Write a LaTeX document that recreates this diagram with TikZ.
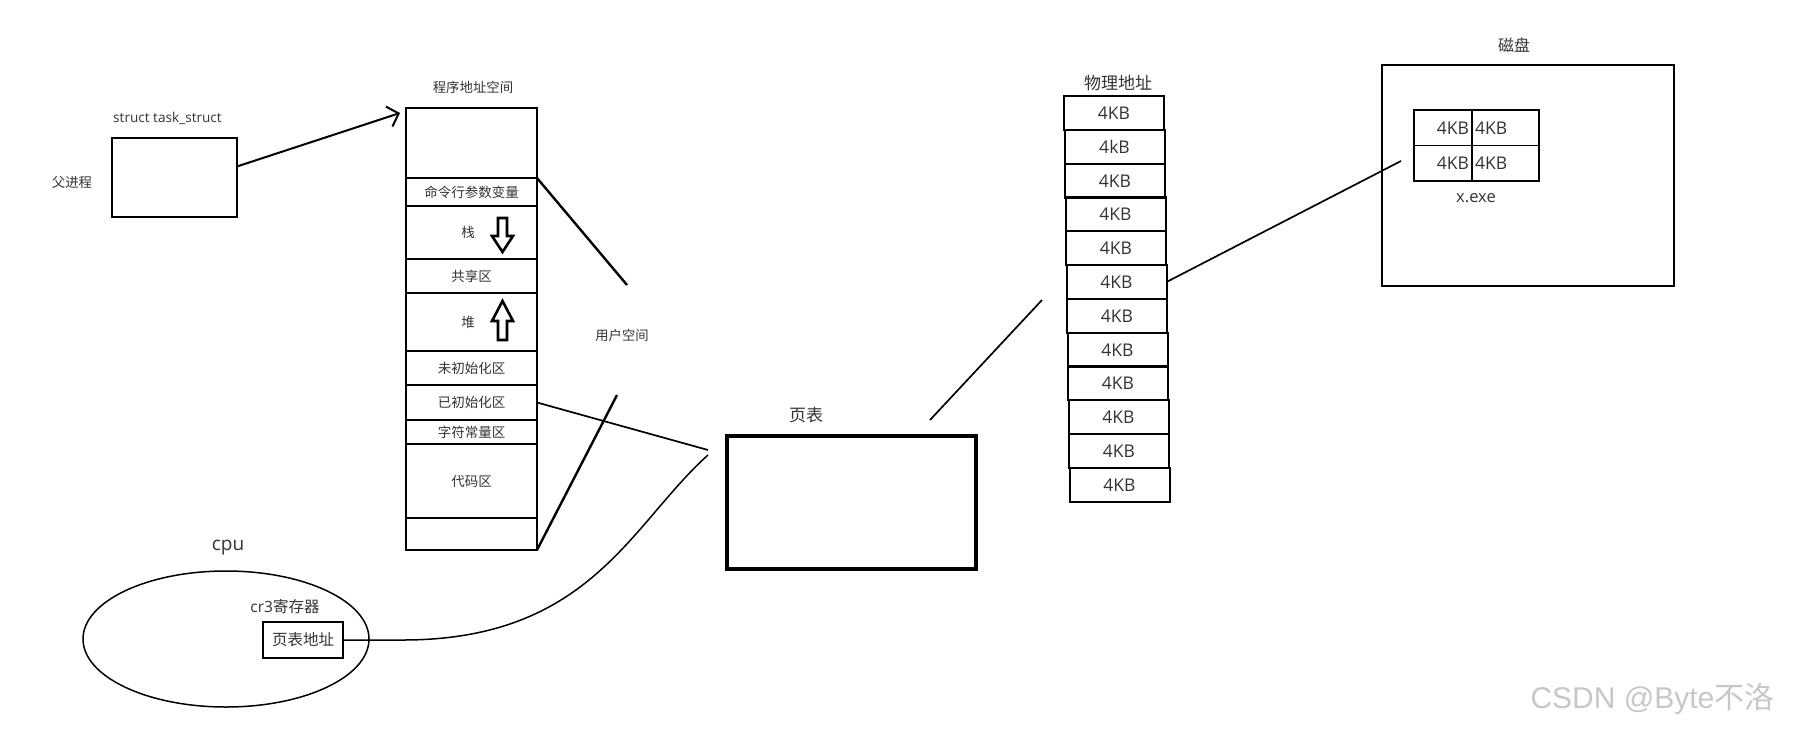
\documentclass[tikz,border=0pt]{standalone}
\usepackage{fontspec}
\setmainfont{Open Sans}
\newfontfamily\cjk{Noto Sans CJK SC}
\newfontfamily\wmfont{Liberation Sans}
\usepackage{tikz}
\usetikzlibrary{
  arrows.meta,
  positioning,
  shapes.geometric
}
\newcommand\fsz[1]{\fontsize{#1}{#1}\selectfont}

\begin{document}
\begin{tikzpicture}[x=1pt,y=-1pt,>={Straight Barb[length=10pt,width=21pt]},
  every node/.style={text=black!80},
  seg/.style={draw,line width=2.8pt,minimum width=131pt,inner sep=0pt,outer sep=0pt,font=\cjk\fsz{13.5}},
  cell/.style={draw,line width=2pt,minimum width=100pt,minimum height=34pt,inner sep=0pt,outer sep=0pt,font=\fsz{17.5}},
  dcell/.style={draw,line width=1.5pt,minimum height=35.5pt,inner xsep=3pt,inner ysep=0pt,outer sep=0pt,font=\fsz{17.5}},
  blk/.style={draw,line width=2.6pt,line join=miter}]
  \useasboundingbox (0,0) rectangle (1794,734);

  \node[draw,line width=2pt,minimum width=125pt,minimum height=79pt,inner sep=0pt,outer sep=0pt] (task) at (174.5,177.5) {};
  \node[font=\fsz{13.6}] (tasklbl) at (167.5,118) {struct task\_struct};
  \node[font=\cjk\fsz{13.4}] (parent) at (72,182) {父进程};

  \node[seg,anchor=north west,minimum height=70pt] (top) at (406,108) {};
  \node[seg,below=0pt of top,minimum height=28pt] (argv) {命令行参数变量};
  \node[seg,below=0pt of argv,minimum height=53pt] (stack) {\hspace*{-7pt}栈};
  \node[seg,below=0pt of stack,minimum height=34pt] (shm) {共享区};
  \node[seg,below=0pt of shm,minimum height=58pt] (heap) {\hspace*{-7pt}堆};
  \node[seg,below=0pt of heap,minimum height=34pt] (bss) {未初始化区};
  \node[seg,below=0pt of bss,minimum height=35pt] (data) {已初始化区};
  \node[seg,below=0pt of data,minimum height=24pt] (rodata) {字符常量区};
  \node[seg,below=0pt of rodata,minimum height=74pt] (text) {代码区};
  \node[seg,below=0pt of text,minimum height=32pt] (tail) {};
  \node[font=\cjk\fsz{13.4}] (vaslbl) at (473,87) {程序地址空间};
  \node[font=\cjk\fsz{13.3}] (user) at (622,335) {用户空间};

  \draw[blk] (498,218) -- (507,218) -- (507,236) -- (513,236) -- (502.5,252) -- (492,236) -- (498,236) -- cycle;
  \draw[blk] (502.5,301) -- (513,321) -- (507,321) -- (507,340) -- (498,340) -- (498,321) -- (492,321) -- cycle;

  \node[draw,line width=3.5pt,minimum width=249pt,minimum height=133pt,inner sep=0pt,outer sep=0pt] (pt) at (851.5,502.5) {};
  \node[font=\cjk\fsz{17}] (ptlbl) at (806,415) {页表};

  \node[ellipse,draw,line width=1.5pt,minimum width=286pt,minimum height=136pt,inner sep=0pt] (cpu) at (226,639) {};
  \node[font=\fsz{19}] (cpulbl) at (228,548) {cpu};
  \node[font=\fsz{15.5}] (cr3) at (285,607) {cr3{\cjk 寄存器}};
  \node[draw,line width=1.8pt,minimum width=80pt,minimum height=36pt,inner sep=0pt,outer sep=0pt,font=\cjk\fsz{15.5}] (addr) at (303,640) {页表地址};

  \node[font=\cjk\fsz{17}] (physlbl) at (1118,83) {物理地址};
  \foreach \i/\t [evaluate=\i as \y using {int(96+33.8*(\i-1)+0.5)}] in {1/4KB,2/4kB,3/4KB,4/4KB,5/4KB,6/4KB,7/4KB,8/4KB,9/4KB,10/4KB,11/4KB,12/4KB}{
    \node[cell,anchor=north west] (c\i) at ({1063.5+0.5*\i},\y) {\t};
  }

  \node[draw,line width=2pt,minimum width=292pt,minimum height=221pt,inner sep=0pt,outer sep=0pt] (disk) at (1528,175.5) {};
  \node[font=\cjk\fsz{16}] (disklbl) at (1514,45) {磁盘};
  \node[dcell,anchor=north west,text width=52pt,align=right] (d1) at (1414,110) {4KB};
  \node[dcell,anchor=north west,text width=61pt,align=left] (d2) at (d1.north east) {4KB};
  \node[dcell,anchor=north west,text width=52pt,align=right] (d3) at (d1.south west) {4KB};
  \node[dcell,anchor=north west,text width=61pt,align=left] (d4) at (d3.north east) {4KB};
  \node[font=\fsz{16.5}] (exe) at (1476,198) {x.exe};

  \coordinate (ptr) at (400,113);
  \coordinate (us1) at (627,285);
  \coordinate (us2) at (617,395);
  \coordinate (pt1) at (708,450);
  \coordinate (pt2) at (708,455);
  \coordinate (pt3) at (930,420);
  \coordinate (pt4) at (1042,300);
  \coordinate (dk) at (1401,161);

  \draw[->,line width=2pt] (task.10) -- (ptr);
  \draw[line width=2.4pt] (argv.north east) -- (us1);
  \draw[line width=2.4pt] (tail.south east) -- (us2);
  \draw[line width=1.7pt] (data.east) -- (pt1);
  \draw[line width=1.5pt] (addr.east) -- ++(57,0) .. controls (590,641) and (630,525) .. (pt2);
  \draw[line width=1.7pt] (pt3) -- (pt4);
  \draw[line width=1.7pt] (c6.east) -- (dk);

  \node[font=\wmfont\fsz{30},text=black!22,anchor=west] (mark) at (1527,699) {CSDN @Byte{\cjk 不洛}};
\end{tikzpicture}
\end{document}
